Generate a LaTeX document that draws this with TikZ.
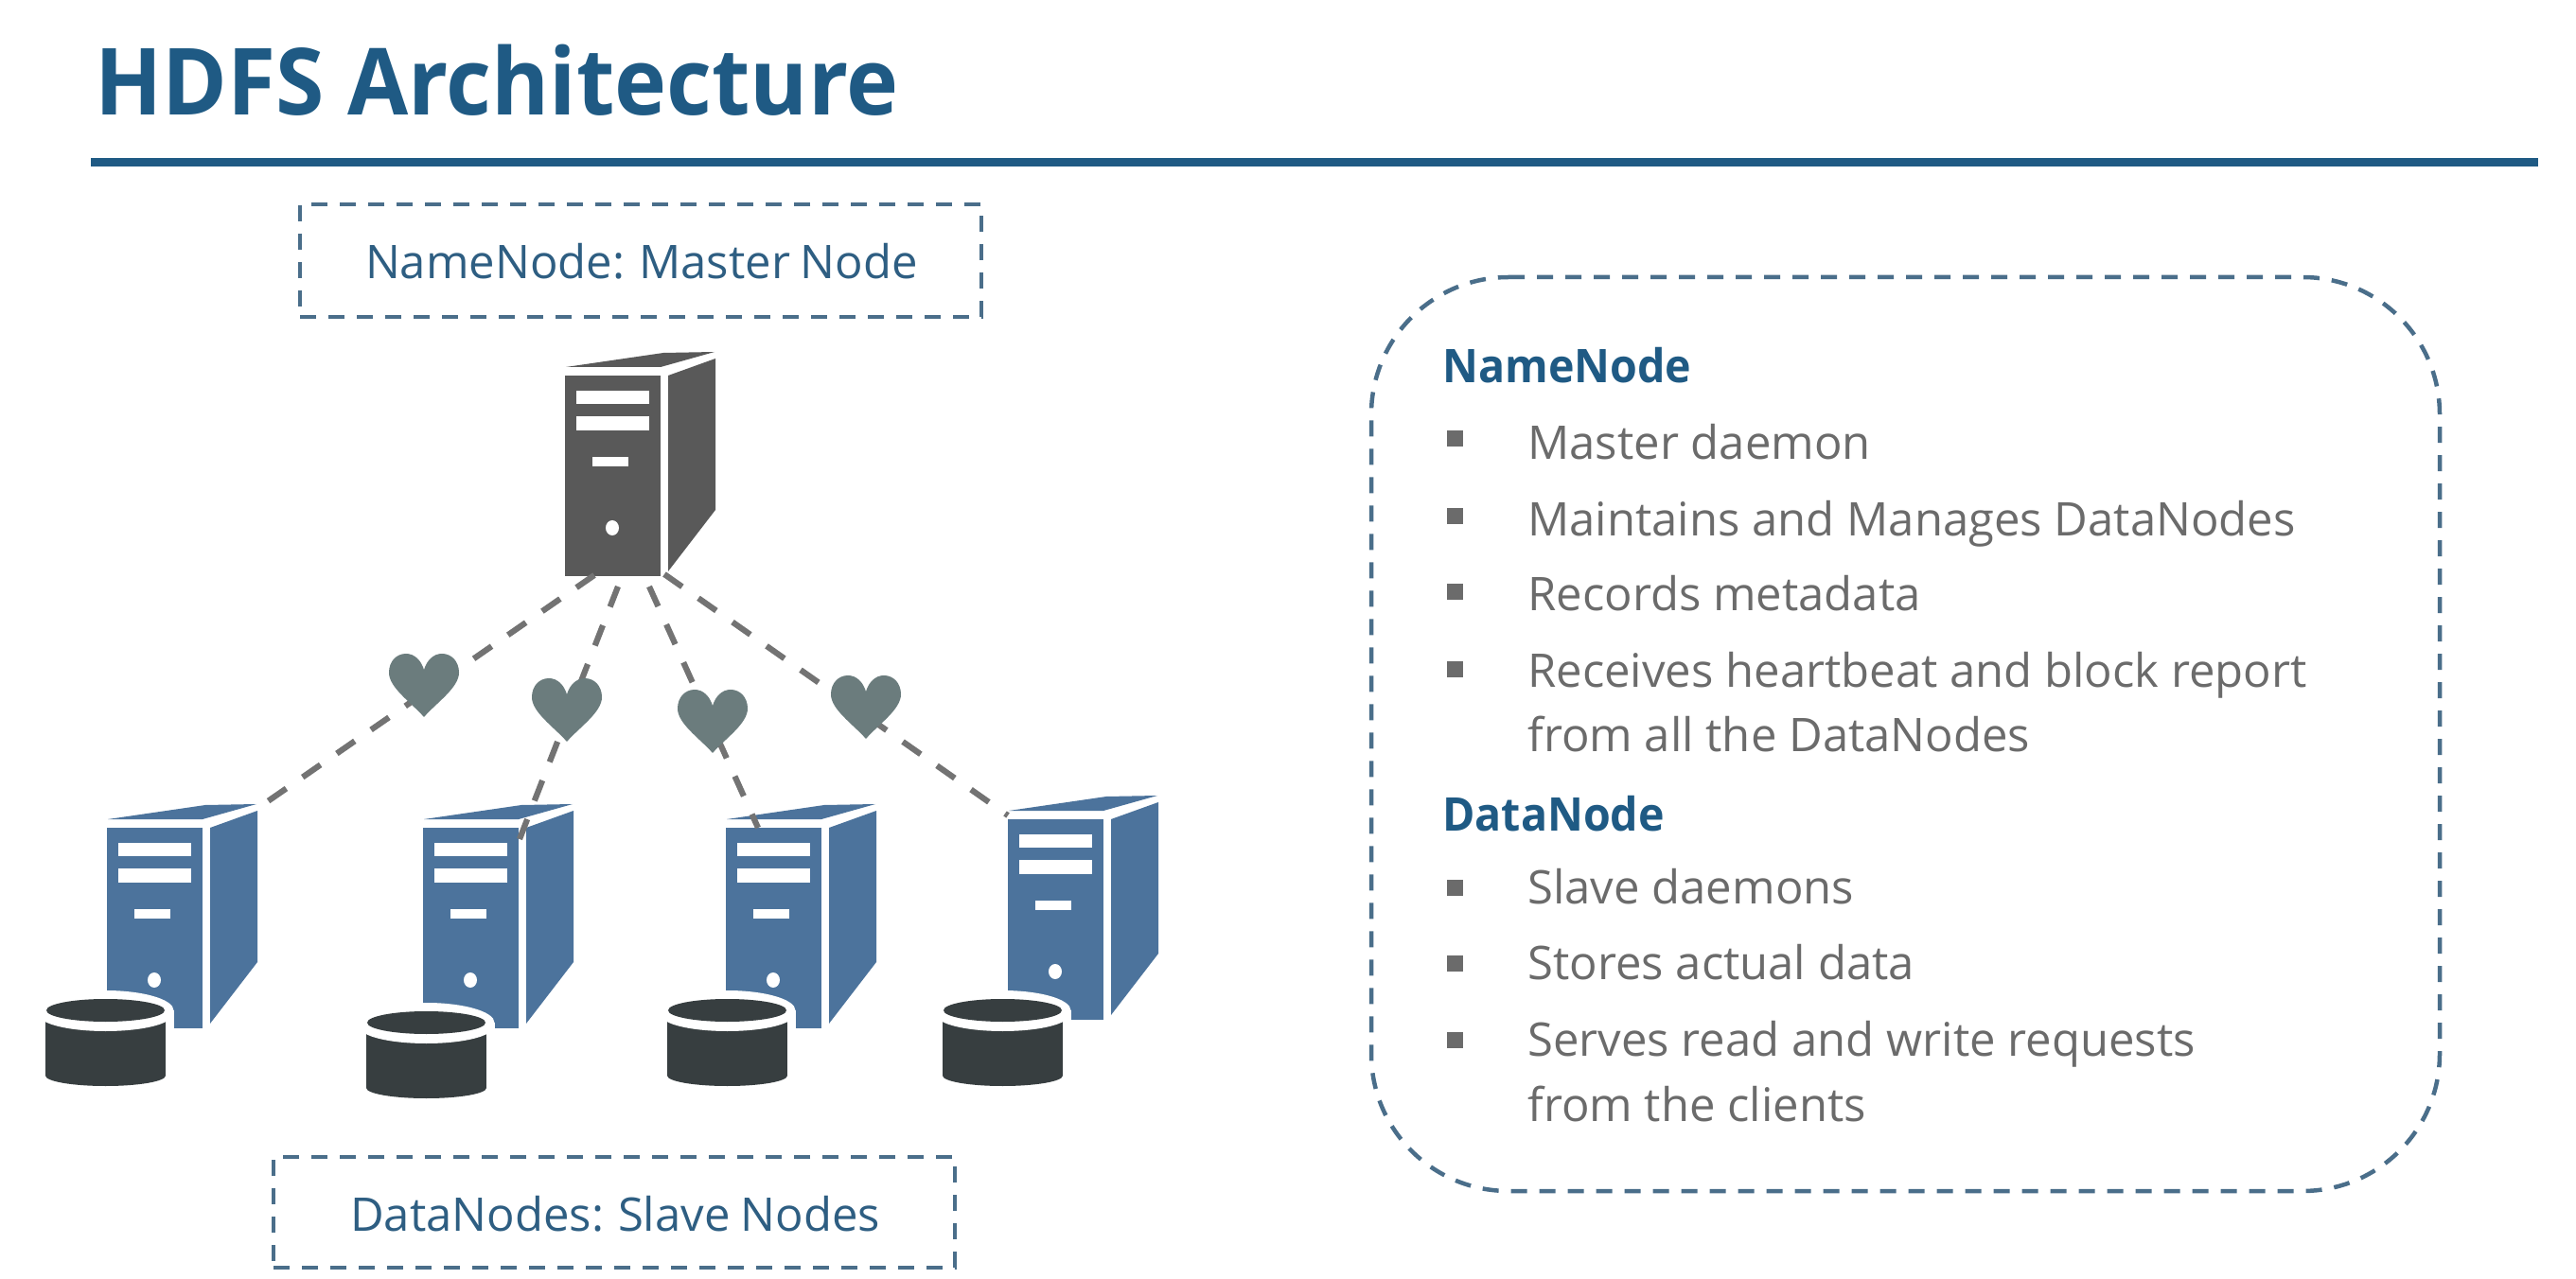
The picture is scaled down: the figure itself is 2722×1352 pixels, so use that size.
\documentclass[tikz,border=0pt]{standalone}
\usepackage{fontspec}
\setmainfont{Open Sans}
\newfontfamily\narrowfont[FakeStretch=0.95]{Open Sans}
\newfontfamily\labelfont[WordSpace=0.85]{Open Sans}
\definecolor{titleblue}{HTML}{1F5A84}
\definecolor{boxline}{HTML}{4A6E8A}
\definecolor{labelblue}{HTML}{2E5E82}
\definecolor{bodygrey}{HTML}{6B6B6B}
\definecolor{masterfill}{HTML}{595959}
\definecolor{slavefill}{HTML}{4C739C}
\definecolor{diskfill}{HTML}{373E40}
\definecolor{heartfill}{HTML}{6B7C7D}
\definecolor{linkgrey}{HTML}{737373}
\tikzset{
  pics/serverpic/.style={code={
    \fill[#1] (0,0) rectangle (101,212);
    \fill[#1] (109,0) -- (159,-18) -- (159,142) -- (109,207) -- cycle;
    \fill[#1] (1,-9) -- (101,-9) -- (158,-25) -- (104,-24) -- cycle;
    \fill[white] (12,16) rectangle (89,30);
    \fill[white] (12,43) rectangle (89,58);
    \fill[white] (29,86) rectangle (67,96);
    \fill[white] (50,161) ellipse [x radius=7, y radius=8];
  }},
  pics/diskpic/.style={code={
    \fill[white] (0,0) ellipse [x radius=72, y radius=21];
    \fill[white] (-72,0) rectangle (72,90);
    \fill[diskfill] (-63.5,10) rectangle (63.5,69);
    \fill[diskfill] (0,69) ellipse [x radius=63.5, y radius=11];
    \fill[white] (0,5) ellipse [x radius=70, y radius=17];
    \fill[diskfill] (0,0) ellipse [x radius=62.5, y radius=12];
  }},
  pics/heartpic/.style={code={
    \fill[heartfill] (37,67) .. controls (24,52) and (0,36) .. (0,20)
      .. controls (0,8) and (8,0) .. (18,0)
      .. controls (27,0) and (34,7) .. (37,17)
      .. controls (40,7) and (47,0) .. (56,0)
      .. controls (66,0) and (74,8) .. (74,20)
      .. controls (74,36) and (50,52) .. (37,67) -- cycle;
  }},
  dashbox/.style={draw=boxline, line width=2.25pt, dash pattern=on 8.5pt off 6.5pt},
  link/.style={draw=linkgrey, line width=3.1pt, dash pattern=on 11.5pt off 10.5pt},
  boxlabel/.style={text=labelblue, font=\labelfont\fontsize{24.5}{29}\selectfont, anchor=center, inner sep=0pt},
  head/.style={text=titleblue, font=\narrowfont\fontsize{24.5}{29}\selectfont\bfseries, anchor=base west, inner sep=0pt},
  item/.style={text=bodygrey, font=\fontsize{24.5}{29}\selectfont, anchor=base west, inner sep=0pt},
  bulletmark/.style={fill=bodygrey, draw=none, minimum size=8.5pt, inner sep=0pt, anchor=center},
}
\begin{document}
\begin{tikzpicture}[x=0.5pt,y=-0.5pt]
\useasboundingbox (0,0) rectangle (2722,1352);
\fill[white] (0,0) rectangle (2722,1352);
% title
\node[text=titleblue, font=\narrowfont\fontsize{49}{56}\selectfont\bfseries, anchor=base west, inner sep=0pt] (title) at (100,122) {HDFS Architecture};
\coordinate (ruleL) at (96,171.5);
\coordinate (ruleR) at (2682,171.5);
\draw[titleblue, line width=4.25pt] (ruleL) -- (ruleR);
% label boxes
\node[dashbox, minimum width=360pt, minimum height=59.5pt, inner sep=0pt] (namebox) at (677,275.5) {};
\node[boxlabel] (namelabel) at (678,276) {NameNode: Master Node};
\node[dashbox, minimum width=360pt, minimum height=58.5pt, inner sep=0pt] (databox) at (649,1281.5) {};
\node[boxlabel] (datalabel) at (650,1283) {DataNodes: Slave Nodes};
% servers
\pic (master) at (597,397) {serverpic=masterfill};
\pic (s1) at (113,875) {serverpic=slavefill};
\pic (s2) at (447,875) {serverpic=slavefill};
\pic (s3) at (767,875) {serverpic=slavefill};
\pic (s4) at (1065,866) {serverpic=slavefill};
% disks
\pic (d1) at (111.5,1068) {diskpic};
\pic (d2) at (450.5,1081) {diskpic};
\pic (d3) at (768.5,1068) {diskpic};
\pic (d4) at (1059.5,1068) {diskpic};
% links
\coordinate (m1) at (628,608);
\coordinate (m2) at (653,620);
\coordinate (m3) at (686,620);
\coordinate (m4) at (702,607);
\coordinate (e1) at (283,847);
\coordinate (e2) at (549,887);
\coordinate (e3) at (801,875);
\coordinate (e4) at (1065,862);
\draw[link] (m1) -- (e1);
\draw[link] (m2) -- (e2);
\draw[link] (m3) -- (e3);
\draw[link] (m4) -- (e4);
% hearts
\pic (h1) at (411,691) {heartpic};
\pic (h2) at (562,717) {heartpic};
\pic (h3) at (716,729) {heartpic};
\pic (h4) at (878,714) {heartpic};
% info panel
\draw[dashbox] (1449,293) [rounded corners=72.5pt] -- (2578,293) -- (2578,1259) -- (1449,1259) -- cycle;
\node[head] (nnhead) at (1524,405) {NameNode};
\node[head] (dnhead) at (1524,878) {DataNode};
\node[item] (i1) at (1614,486) {Master daemon};
\node[item] (i2) at (1614,567) {Maintains and Manages DataNodes};
\node[item] (i3) at (1614,646) {Records metadata};
\node[item] (i4) at (1614,727) {Receives heartbeat and block report};
\node[item] (i4b) at (1614,795) {from all the DataNodes};
\node[item] (i5) at (1614,955) {Slave daemons};
\node[item] (i6) at (1614,1035) {Stores actual data};
\node[item] (i7) at (1614,1116) {Serves read and write requests};
\node[item] (i7b) at (1614,1185) {from the clients};
\foreach \n/\yy in {b1/464,b2/546,b3/626,b4/708,b5/938,b6/1018,b7/1099}
  \node[bulletmark] (\n) at (1537,\yy) {};
\end{tikzpicture}
\end{document}
